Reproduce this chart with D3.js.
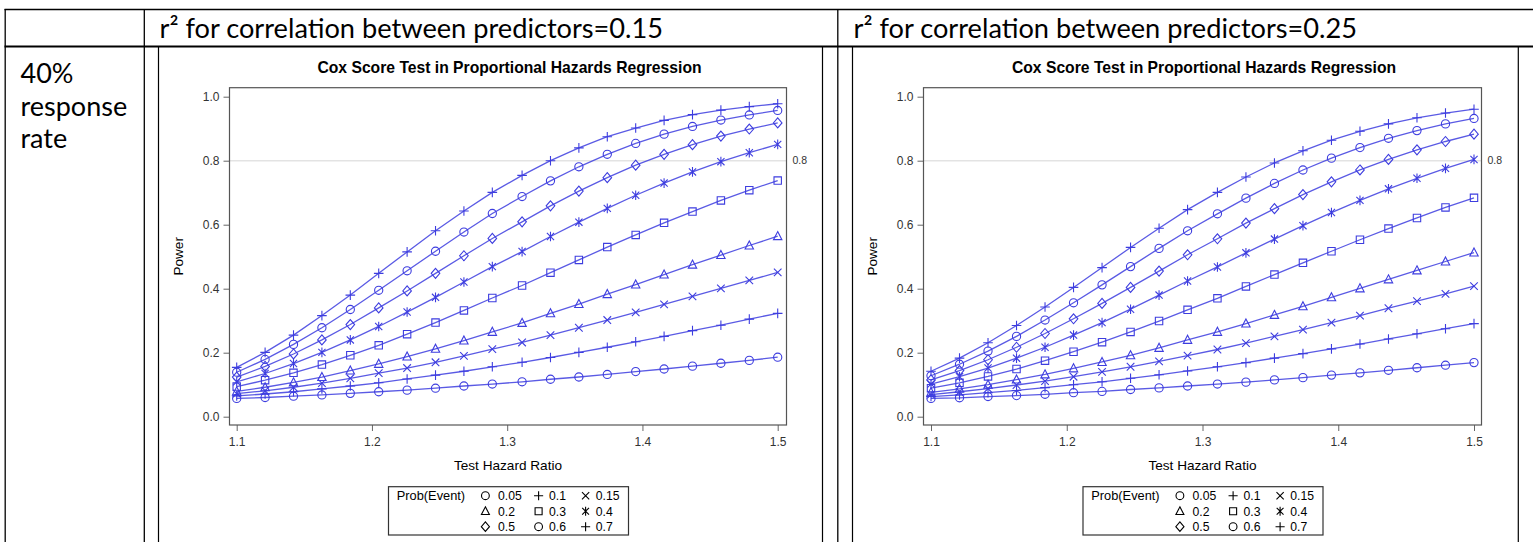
<!DOCTYPE html>
<html><head><meta charset="utf-8">
<script src="https://cdn.jsdelivr.net/npm/d3@7"></script>
<style>body{margin:0;background:#fff;overflow:hidden} svg{display:block}</style>
</head><body>
<svg id="c" width="1533" height="542"></svg>
<script>
// ---------- data ----------
const hazardRatios = [1.1,1.121,1.142,1.163,1.184,1.205,1.226,1.247,1.268,1.289,1.311,1.332,1.353,1.374,1.395,1.416,1.437,1.458,1.479,1.5];
const probEvents = ["0.05","0.1","0.15","0.2","0.3","0.4","0.5","0.6","0.7"];
const markerTypes = ["circle","plus","x","triangle","square","asterisk","diamond","circle","plus"];
const xTicks = [1.1,1.2,1.3,1.4,1.5];
const yTicks = [0.0,0.2,0.4,0.6,0.8,1.0];
const refLine = 0.8;
const panelHeaders = ["r\u00B2 for correlation between predictors=0.15","r\u00B2 for correlation between predictors=0.25"];
const rowLabel = ["40%","response","rate"];
const chartTitle = "Cox Score Test in Proportional Hazards Regression";
const xLabel = "Test Hazard Ratio";
const yLabel = "Power";
const legendTitle = "Prob(Event)";

// r^2 = 0.15
const r15_p05 = [0.057,0.060,0.064,0.068,0.073,0.078,0.083,0.089,0.096,0.102,0.109,0.117,0.124,0.132,0.141,0.149,0.158,0.167,0.176,0.186];
const r15_p10 = [0.065,0.071,0.078,0.087,0.096,0.106,0.118,0.130,0.142,0.156,0.170,0.185,0.201,0.217,0.234,0.251,0.269,0.286,0.305,0.323];
const r15_p15 = [0.072,0.081,0.092,0.105,0.120,0.136,0.152,0.170,0.190,0.211,0.232,0.255,0.278,0.302,0.326,0.351,0.376,0.401,0.426,0.451];
const r15_p20 = [0.079,0.092,0.107,0.124,0.144,0.165,0.188,0.212,0.238,0.265,0.293,0.323,0.352,0.383,0.413,0.444,0.475,0.505,0.535,0.564];
const r15_p30 = [0.094,0.114,0.137,0.163,0.192,0.223,0.258,0.294,0.332,0.371,0.410,0.450,0.490,0.530,0.568,0.606,0.641,0.676,0.708,0.738];
const r15_p40 = [0.109,0.135,0.166,0.201,0.240,0.282,0.327,0.373,0.421,0.469,0.516,0.563,0.608,0.651,0.692,0.730,0.765,0.797,0.825,0.851];
const r15_p50 = [0.124,0.157,0.196,0.240,0.288,0.340,0.393,0.448,0.503,0.557,0.609,0.659,0.705,0.747,0.786,0.820,0.850,0.877,0.899,0.918];
const r15_p60 = [0.139,0.179,0.226,0.278,0.335,0.395,0.456,0.517,0.577,0.635,0.688,0.737,0.781,0.820,0.854,0.883,0.907,0.927,0.943,0.957];
const r15_p70 = [0.154,0.201,0.255,0.316,0.380,0.448,0.515,0.581,0.643,0.701,0.754,0.800,0.840,0.875,0.902,0.926,0.944,0.958,0.969,0.978];
// r^2 = 0.25
const r25_p05 = [0.057,0.059,0.063,0.066,0.070,0.075,0.079,0.085,0.090,0.096,0.102,0.108,0.115,0.122,0.130,0.137,0.145,0.153,0.161,0.169];
const r25_p10 = [0.063,0.068,0.075,0.082,0.091,0.100,0.109,0.120,0.131,0.143,0.156,0.169,0.183,0.197,0.212,0.227,0.243,0.259,0.275,0.291];
const r25_p15 = [0.069,0.078,0.088,0.099,0.111,0.125,0.140,0.156,0.173,0.191,0.210,0.230,0.251,0.272,0.294,0.316,0.339,0.361,0.384,0.408];
const r25_p20 = [0.076,0.087,0.100,0.116,0.132,0.151,0.171,0.192,0.215,0.240,0.265,0.291,0.318,0.345,0.373,0.401,0.429,0.457,0.485,0.513];
const r25_p30 = [0.089,0.106,0.126,0.149,0.175,0.203,0.233,0.265,0.299,0.334,0.370,0.407,0.444,0.481,0.517,0.553,0.588,0.621,0.654,0.684];
const r25_p40 = [0.102,0.125,0.152,0.183,0.217,0.255,0.294,0.336,0.380,0.424,0.468,0.512,0.555,0.597,0.638,0.676,0.712,0.745,0.776,0.804];
const r25_p50 = [0.115,0.144,0.178,0.217,0.260,0.306,0.354,0.404,0.455,0.506,0.556,0.605,0.650,0.694,0.734,0.771,0.804,0.834,0.860,0.883];
const r25_p60 = [0.128,0.164,0.205,0.251,0.302,0.356,0.412,0.469,0.526,0.581,0.634,0.683,0.729,0.771,0.808,0.841,0.870,0.894,0.915,0.932];
const r25_p70 = [0.142,0.183,0.231,0.285,0.343,0.404,0.466,0.529,0.589,0.647,0.701,0.749,0.793,0.831,0.864,0.892,0.915,0.934,0.949,0.961];

const chartSeries = [
  [r15_p05,r15_p10,r15_p15,r15_p20,r15_p30,r15_p40,r15_p50,r15_p60,r15_p70],
  [r25_p05,r25_p10,r25_p15,r25_p20,r25_p30,r25_p40,r25_p50,r25_p60,r25_p70]
];

// ---------- layout ----------
const W = 1533, H = 542;
const svg = d3.select("#c");
const SANS = "'Liberation Sans', Arial, sans-serif";
const DOC = "Lato, 'Noto Sans', sans-serif";
const BLUE = "#3d3ddf";

function hline(x1,x2,y,w){svg.append("line").attr("x1",x1).attr("x2",x2).attr("y1",y).attr("y2",y).attr("stroke","#000").attr("stroke-width",w);}
function vline(x,y1,y2,w){svg.append("line").attr("x1",x).attr("x2",x).attr("y1",y1).attr("y2",y2).attr("stroke","#000").attr("stroke-width",w);}

// table
hline(4.5, W, 9.5, 1.3);
hline(4.5, W, 46.5, 2);
vline(5.2, 9, H, 1.3);
vline(144.3, 9, H, 1.3);
vline(837.8, 9, H, 1.3);

// header text
const headerX = [159.5, 853.5];
panelHeaders.forEach((t,i)=>{
  svg.append("text").attr("x",headerX[i]).attr("y",37.5).attr("font-family",DOC)
    .attr("font-size",27.2).attr("fill","#000").text(t);
});
rowLabel.forEach((t,i)=>{
  svg.append("text").attr("x",20.5).attr("y",83+i*32.5).attr("font-family",DOC)
    .attr("font-size",27).attr("fill","#000").text(t);
});

// symbols
function symPath(type, s){
  s = s||1;
  switch(type){
    case "circle": {const r=4.1*s; return `M${r},0A${r},${r} 0 1,1 ${-r},0A${r},${r} 0 1,1 ${r},0Z`;}
    case "plus": {const a=4.8*s; return `M${-a},0H${a}M0,${-a}V${a}`;}
    case "x": {const b=3.8*s; return `M${-b},${-b}L${b},${b}M${-b},${b}L${b},${-b}`;}
    case "triangle": {const h=4.6*s, w=4.2*s; return `M0,${-h}L${w},${h*0.75}L${-w},${h*0.75}Z`;}
    case "square": {const a=3.7*s; return `M${-a},${-a}H${a}V${a}H${-a}Z`;}
    case "asterisk": {const b=3.6*s, a=4.8*s; return `M${-b},${-b}L${b},${b}M${-b},${b}L${b},${-b}M0,${-a}V${a}`;}
    case "diamond": {const h=5*s, w=4.3*s; return `M0,${-h}L${w},0L0,${h}L${-w},0Z`;}
  }
}

const panels = [
  {imgL:158.5, imgR:822.5, frameL:229.5, frameR:786.5, xr:[236.7,777.7]},
  {imgL:852.5, imgR:1518.3, frameL:923.5, frameR:1481.5, xr:[931,1474]}
];
const frameT = 87.7, frameB = 425;

panels.forEach((p,pi)=>{
  vline(p.imgL, 47, H, 1.2);
  vline(p.imgR, 47, H, 1.2);
  const x = d3.scaleLinear().domain([1.1,1.5]).range(p.xr);
  const y = d3.scaleLinear().domain([0,1]).range([416.7,96.7]);
  const cx = (p.frameL+p.frameR)/2;
  const g = svg.append("g");

  // title
  g.append("text").attr("x",cx+1.5).attr("y",73).attr("text-anchor","middle")
    .attr("font-family",SANS).attr("font-weight","bold").attr("font-size",15.7)
    .attr("fill","#000").text(chartTitle);

  // reference line
  g.append("line").attr("x1",p.frameL).attr("x2",p.frameR).attr("y1",y(refLine)).attr("y2",y(refLine))
    .attr("stroke","#e3e3e3").attr("stroke-width",1.6);
  g.append("text").attr("x",p.frameR+6).attr("y",y(refLine)).attr("dy","0.35em")
    .attr("font-family",SANS).attr("font-size",10.5).attr("fill","#333").text(d3.format(".1f")(refLine));

  // axes
  const xa = g.append("g").attr("transform",`translate(0,${frameB})`)
    .call(d3.axisBottom(x).tickValues(xTicks).tickSize(6).tickPadding(6).tickFormat(d3.format(".1f")));
  const ya = g.append("g").attr("transform",`translate(${p.frameL},0)`)
    .call(d3.axisLeft(y).tickValues(yTicks).tickSize(6).tickPadding(4).tickFormat(d3.format(".1f")));
  [xa,ya].forEach(a=>{
    a.select(".domain").remove();
    a.selectAll(".tick line").attr("stroke","#666");
    a.selectAll(".tick text").attr("font-family",SANS).attr("font-size",12).attr("fill","#333");
  });

  // axis labels
  g.append("text").attr("x",cx).attr("y",470).attr("text-anchor","middle")
    .attr("font-family",SANS).attr("font-size",13.6).attr("fill","#000").text(xLabel);
  g.append("text").attr("transform",`translate(${p.frameL-47},${(frameT+frameB)/2}) rotate(-90)`)
    .attr("text-anchor","middle").attr("font-family",SANS).attr("font-size",13.6).attr("fill","#000").text(yLabel);

  // series
  const line = d3.line().x((d,i)=>x(hazardRatios[i])).y(d=>y(d));
  chartSeries[pi].forEach((vals,si)=>{
    g.append("path").attr("d",line(vals)).attr("fill","none").attr("stroke",BLUE)
      .attr("stroke-width",1.3).attr("stroke-opacity",0.85);
    g.selectAll(null).data(vals).enter().append("path")
      .attr("transform",(d,i)=>`translate(${x(hazardRatios[i])},${y(d)})`)
      .attr("d",symPath(markerTypes[si])).attr("fill","none").attr("stroke",BLUE).attr("stroke-width",1.1);
  });

  // frame
  g.append("rect").attr("x",p.frameL).attr("y",frameT).attr("width",p.frameR-p.frameL).attr("height",frameB-frameT)
    .attr("fill","none").attr("stroke","#555").attr("stroke-width",1.2);

  // legend
  const lg = g.append("g").attr("transform",`translate(${cx},0)`);
  lg.append("rect").attr("x",-119.5).attr("y",486.7).attr("width",240).attr("height",48.3)
    .attr("fill","#fff").attr("stroke","#333").attr("stroke-width",1.2);
  lg.append("text").attr("x",-111.2).attr("y",500).attr("font-family",SANS).attr("font-size",12.8)
    .attr("fill","#000").text(legendTitle);
  const colSym = [-22.6, 30.6, 77.6];
  const colTxt = [-10.0, 41.0, 87.8];
  const rowY = [495.7, 511.2, 526.7];
  probEvents.forEach((pe,k)=>{
    const r = Math.floor(k/3), c = k%3;
    lg.append("path").attr("transform",`translate(${colSym[c]},${rowY[r]})`).attr("d",symPath(markerTypes[k],0.95))
      .attr("fill","none").attr("stroke","#000").attr("stroke-width",1.1);
    lg.append("text").attr("x",colTxt[c]).attr("y",rowY[r]).attr("dy","0.36em").attr("font-family",SANS)
      .attr("font-size",12.2).attr("fill","#000").text(pe);
  });
});
</script>
</body></html>
